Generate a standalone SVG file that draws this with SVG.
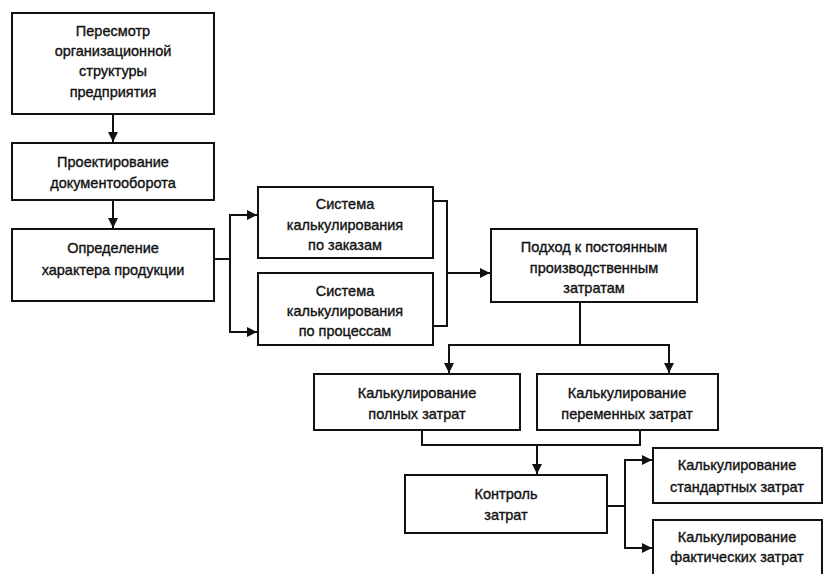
<svg xmlns="http://www.w3.org/2000/svg" width="824" height="574" viewBox="0 0 824 574">
<style>
.box{fill:#fff;stroke:#111;stroke-width:2}
.t{font-family:"Liberation Sans",Arial,sans-serif;font-size:14.5px;fill:#111;stroke:#111;stroke-width:0.35;text-anchor:middle}
.c{fill:none;stroke:#111;stroke-width:2}
</style>
<defs>
<marker id="ah" viewBox="0 0 10 10" refX="10" refY="5" markerWidth="5" markerHeight="5" orient="auto" markerUnits="strokeWidth">
<path d="M0,0 L10,5 L0,10 z" fill="#111"/>
</marker>
</defs>
<rect width="824" height="574" fill="#fff"/>
<g id="connectors">
<path class="c" d="M113,114 V142" marker-end="url(#ah)"/>
<path class="c" d="M113,200 V228" marker-end="url(#ah)"/>
<path class="c" d="M214,259 H230 V215 H257" marker-end="url(#ah)"/>
<path class="c" d="M230,259 V332 H257" marker-end="url(#ah)"/>
<path class="c" d="M433,201 H447 V326 H433"/>
<path class="c" d="M447,273 H490" marker-end="url(#ah)"/>
<path class="c" d="M580,302 V345 H449 V373" marker-end="url(#ah)"/>
<path class="c" d="M580,345 H669 V373" marker-end="url(#ah)"/>
<path class="c" d="M422,430 V445 H640 V430"/>
<path class="c" d="M537,445 V474" marker-end="url(#ah)"/>
<path class="c" d="M607,506 H625 V460 H652" marker-end="url(#ah)"/>
<path class="c" d="M625,506 V548 H652" marker-end="url(#ah)"/>
</g>
<g id="n1"><rect class="box" x="12" y="13" width="202" height="101"/>
<text class="t" x="113" y="36">Пересмотр</text><text class="t" x="113" y="56">организационной</text><text class="t" x="113" y="76">структуры</text><text class="t" x="113" y="97">предприятия</text></g>
<g id="n2"><rect class="box" x="12" y="143" width="202" height="57"/>
<text class="t" x="113" y="167">Проектирование</text><text class="t" x="113" y="188">документооборота</text></g>
<g id="n3"><rect class="box" x="12" y="229" width="202" height="72"/>
<text class="t" x="113" y="253">Определение</text><text class="t" x="113" y="275">характера продукции</text></g>
<g id="n4"><rect class="box" x="258" y="187" width="175" height="71"/>
<text class="t" x="345" y="209">Система</text><text class="t" x="345" y="230">калькулирования</text><text class="t" x="345" y="250">по заказам</text></g>
<g id="n5"><rect class="box" x="258" y="273" width="175" height="72"/>
<text class="t" x="345" y="296">Система</text><text class="t" x="345" y="316">калькулирования</text><text class="t" x="345" y="336">по процессам</text></g>
<g id="n6"><rect class="box" x="491" y="229" width="206" height="73"/>
<text class="t" x="594" y="252">Подход к постоянным</text><text class="t" x="594" y="273">производственным</text><text class="t" x="594" y="293">затратам</text></g>
<g id="n7"><rect class="box" x="314" y="374" width="206" height="56"/>
<text class="t" x="417" y="398">Калькулирование</text><text class="t" x="417" y="419">полных затрат</text></g>
<g id="n8"><rect class="box" x="537" y="374" width="181" height="56"/>
<text class="t" x="627" y="398">Калькулирование</text><text class="t" x="627" y="419">переменных затрат</text></g>
<g id="n9"><rect class="box" x="405" y="475" width="202" height="58"/>
<text class="t" x="506" y="499">Контроль</text><text class="t" x="506" y="520">затрат</text></g>
<g id="n10"><rect class="box" x="653" y="448" width="169" height="55"/>
<text class="t" x="737" y="470">Калькулирование</text><text class="t" x="737" y="492">стандартных затрат</text></g>
<g id="n11"><rect class="box" x="653" y="520" width="169" height="60"/>
<text class="t" x="737" y="542">Калькулирование</text><text class="t" x="737" y="562">фактических затрат</text></g>
</svg>
